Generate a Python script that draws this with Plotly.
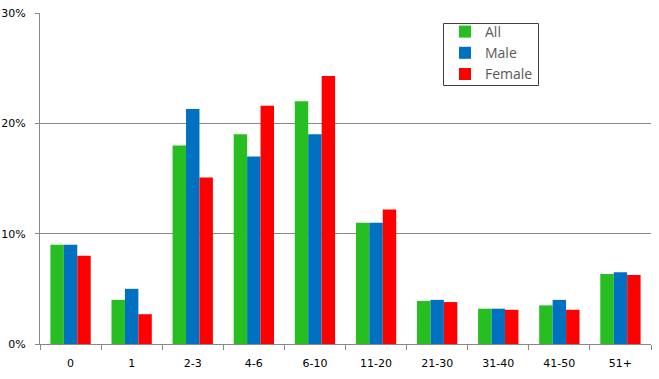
import plotly.graph_objects as go

categories = ["0", "1", "2-3", "4-6", "6-10", "11-20", "21-30", "31-40", "41-50", "51+"]
all_vals = [9.0, 4.0, 18.0, 19.0, 22.0, 11.0, 3.9, 3.2, 3.5, 6.35]
male_vals = [9.0, 5.0, 21.3, 17.0, 19.0, 11.0, 4.0, 3.2, 4.0, 6.5]
female_vals = [8.0, 2.7, 15.1, 21.6, 24.3, 12.2, 3.8, 3.1, 3.1, 6.25]

series = [("All", all_vals, "#26BE21"), ("Male", male_vals, "#0070C0"), ("Female", female_vals, "#FF0000")]

fig = go.Figure()
for name, vals, color in series:
    fig.add_trace(go.Bar(x=categories, y=vals, name=name, marker=dict(color=color, line=dict(width=0))))

# legend frame (x: 443-538 px, y: 23-85 px of the 659x379 page)
W, H, L, R, T, B = 659, 379, 40, 8, 13, 35
pw, ph = W - L - R, H - T - B
def px_x(p): return (p - L) / pw
def px_y(p): return (H - B - p) / ph

fig.update_layout(
    width=W, height=H,
    margin=dict(l=L, r=R, t=T, b=B, autoexpand=False),
    paper_bgcolor="white", plot_bgcolor="white",
    barmode="group", bargap=0.34, bargroupgap=0,
    font=dict(family="DejaVu Sans, Verdana, sans-serif", size=11, color="#000000"),
    showlegend=True,
    legend=dict(
        x=px_x(445), y=px_y(16), xanchor="left", yanchor="top",
        borderwidth=0, bgcolor="rgba(0,0,0,0)",
        font=dict(size=14, color="#595959", family="Open Sans, Liberation Sans, sans-serif"),
        itemwidth=30, tracegroupgap=0,
    ),
    shapes=[dict(type="rect", xref="paper", yref="paper",
                 x0=px_x(443.5), x1=px_x(538.5), y0=px_y(85.5), y1=px_y(23.5),
                 line=dict(color="#404040", width=1), fillcolor="rgba(0,0,0,0)", layer="above")],
)
fig.update_xaxes(
    type="category", showline=True, linecolor="#888888", linewidth=1,
    ticks="outside", tickson="boundaries", ticklen=5, tickcolor="#888888",
    showgrid=False, tickfont=dict(size=11), automargin=False, ticklabelstandoff=9,
)
fig.update_yaxes(
    range=[0, 30], tickvals=[0, 10, 20, 30], ticktext=["0%", "10%", "20%", "30%"],
    showline=True, linecolor="#888888", linewidth=1,
    ticks="outside", ticklen=4, tickcolor="#888888",
    showgrid=True, gridcolor="#888888", gridwidth=1, zeroline=False,
    tickfont=dict(size=11), automargin=False, ticklabelstandoff=7,
)
fig.write_html("out.html", config={"displayModeBar": False},
               post_script="document.body.style.margin='0';document.body.style.overflow='hidden';")
